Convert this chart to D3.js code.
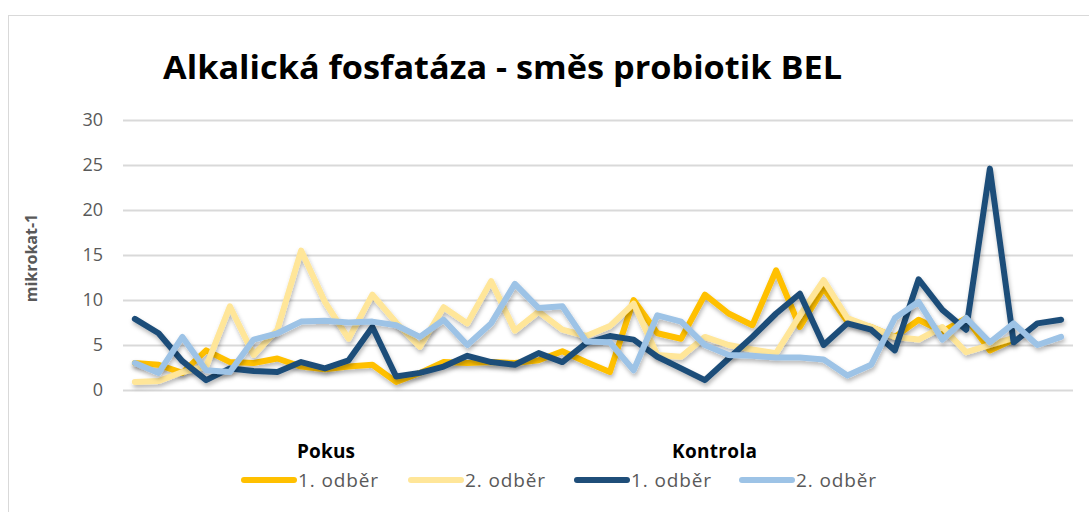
<!DOCTYPE html>
<html>
<head>
<meta charset="utf-8">
<script src="https://cdn.jsdelivr.net/npm/d3@7"></script>
<style>
  body { margin: 0; background: #fff; }
  svg { display: block; font-family: "Open Sans", "DejaVu Sans", sans-serif; }
</style>
</head>
<body>
<svg id="chart" width="1089" height="512"></svg>
<script>
// Sample index (category axis has no labels in the original)
const categories = d3.range(1, 41);
const yTicks = [0, 5, 10, 15, 20, 25, 30];

// Pokus
const pokus1 = [3.0, 2.8, 1.9, 4.4, 3.1, 3.0, 3.5, 2.6, 2.3, 2.6,
  2.8, 0.9, 1.9, 3.1, 3.0, 3.1, 3.0, 3.3, 4.3, 3.1,
  2.0, 10.0, 6.3, 5.7, 10.6, 8.5, 7.2, 13.3, 7.0, 11.3,
  7.6, 7.0, 5.9, 7.8, 6.5, 8.0, 4.4, 5.6, null, null];
const pokus2 = [0.9, 1.0, 2.0, 2.6, 9.3, 3.9, 6.7, 15.5, 9.8, 5.7,
  10.6, 7.5, 4.8, 9.2, 7.4, 12.1, 6.6, 8.7, 6.7, 6.0,
  7.1, 9.6, 3.9, 3.7, 5.9, 5.0, 4.5, 4.1, 8.3, 12.2,
  8.0, 7.0, 5.9, 5.6, 7.0, 4.2, 5.0, 5.8, null, null];

// Kontrola
const kontrola1 = [7.9, 6.3, 3.2, 1.1, 2.4, 2.1, 2.0, 3.1, 2.4, 3.3,
  7.0, 1.5, 1.9, 2.6, 3.8, 3.1, 2.8, 4.1, 3.1, 5.2,
  6.0, 5.6, 3.7, 2.4, 1.1, 3.5, 5.9, 8.5, 10.7, 5.0,
  7.4, 6.7, 4.4, 12.3, 8.9, 6.7, 24.6, 5.3, 7.4, 7.8];
const kontrola2 = [3.0, 1.9, 5.9, 2.2, 2.0, 5.6, 6.3, 7.6, 7.7, 7.5,
  7.6, 7.2, 5.9, 7.8, 5.0, 7.4, 11.8, 9.1, 9.3, 5.4,
  5.3, 2.2, 8.3, 7.6, 5.0, 3.9, 3.8, 3.6, 3.6, 3.4,
  1.6, 2.8, 8.0, 9.8, 5.6, 8.0, 5.3, 7.4, 5.0, 5.9];

const series = [
  { name: '1. odběr', values: pokus1, color: '#FFC000' },
  { name: '2. odběr', values: pokus2, color: '#FFE699' },
  { name: '1. odběr', values: kontrola1, color: '#1F4E79' },
  { name: '2. odběr', values: kontrola2, color: '#9DC3E6' }
];

const svg = d3.select('#chart');
const plot = { left: 123, right: 1073, top: 120, bottom: 390 };

// Drop shadow like the Excel line effect
const defs = svg.append('defs');
defs.append('filter')
  .attr('id', 'shadow')
  .attr('x', '-10%').attr('y', '-10%')
  .attr('width', '120%').attr('height', '130%')
  .append('feDropShadow')
  .attr('dx', 1).attr('dy', 3)
  .attr('stdDeviation', 2)
  .attr('flood-color', '#000')
  .attr('flood-opacity', 0.28);

// Chart frame
svg.append('rect')
  .attr('x', 8.5).attr('y', 15.5)
  .attr('width', 1100).attr('height', 520)
  .attr('fill', '#fff')
  .attr('stroke', '#d9d9d9')
  .attr('stroke-width', 1);

// Title
svg.append('text')
  .attr('x', 163).attr('y', 79)
  .attr('textLength', 679)
  .attr('lengthAdjust', 'spacingAndGlyphs')
  .style('font-size', '32px')
  .style('font-weight', 'bold')
  .style('fill', '#000')
  .text('Alkalická fosfatáza - směs probiotik BEL');

// Scales
const x = d3.scalePoint()
  .domain(categories)
  .range([plot.left, plot.right])
  .padding(0.5);

const y = d3.scaleLinear()
  .domain([0, 30])
  .range([plot.bottom, plot.top]);

// Grid
const grid = svg.append('g')
  .attr('class', 'grid')
  .attr('transform', `translate(${plot.left},0)`)
  .call(d3.axisLeft(y).tickValues(yTicks).tickSize(-(plot.right - plot.left)).tickFormat(''));
grid.select('.domain').remove();
grid.selectAll('line').attr('stroke', '#d9d9d9').attr('stroke-width', 2);

// Y axis labels
const yAxis = svg.append('g')
  .attr('class', 'y-axis')
  .attr('transform', `translate(${plot.left},0)`)
  .call(d3.axisLeft(y).tickValues(yTicks).tickSize(0).tickPadding(20));
yAxis.select('.domain').remove();
yAxis.selectAll('text')
  .style('font-size', '18px')
  .style('fill', '#595959')
  .style('font-family', '"Open Sans", sans-serif');

svg.append('text')
  .attr('transform', `translate(37,${(plot.top + plot.bottom) / 2 + 3}) rotate(-90)`)
  .attr('text-anchor', 'middle')
  .style('font-size', '16px')
  .style('font-weight', 'bold')
  .style('fill', '#595959')
  .text('mikrokat-1');

// Lines
const line = d3.line()
  .defined(d => d != null)
  .x((d, i) => x(categories[i]))
  .y(d => y(d));

svg.append('g')
  .attr('class', 'lines')
  .selectAll('path')
  .data(series)
  .join('path')
  .attr('fill', 'none')
  .attr('stroke', d => d.color)
  .attr('stroke-width', 6)
  .attr('stroke-linejoin', 'round')
  .attr('stroke-linecap', 'round')
  .attr('filter', 'url(#shadow)')
  .attr('d', d => line(d.values));

// Legend
const legend = svg.append('g').attr('class', 'legend');
legend.append('text')
  .attr('x', 297).attr('y', 458)
  .attr('textLength', 58)
  .style('font-size', '19px').style('font-weight', 'bold').style('fill', '#000')
  .text('Pokus');
legend.append('text')
  .attr('x', 672).attr('y', 458)
  .attr('textLength', 85)
  .style('font-size', '19px').style('font-weight', 'bold').style('fill', '#000')
  .text('Kontrola');

const legendX = [242, 409, 575, 740];
const items = legend.selectAll('g.item')
  .data(series)
  .join('g')
  .attr('class', 'item')
  .attr('transform', (d, i) => `translate(${legendX[i]},480)`);

items.append('line')
  .attr('x1', 2).attr('x2', 52)
  .attr('stroke', d => d.color)
  .attr('stroke-width', 6)
  .attr('stroke-linecap', 'round');

items.append('text')
  .attr('x', 56).attr('y', 7)
  .attr('textLength', 80)
  .style('font-size', '19px')
  .style('fill', '#595959')
  .text(d => d.name);
</script>
</body>
</html>
